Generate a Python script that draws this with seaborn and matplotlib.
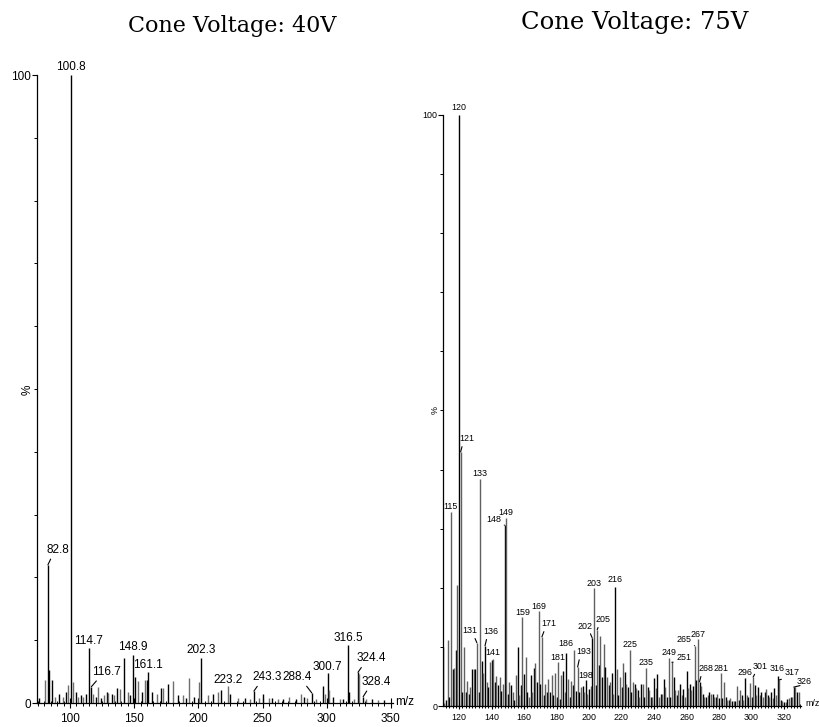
import numpy as np
import pandas as pd
import matplotlib
matplotlib.use("Agg")
import matplotlib.pyplot as plt
import seaborn as sns
from matplotlib import font_manager as fm
from matplotlib.ticker import MultipleLocator, FixedLocator

# ---------------- data ----------------
# Cone voltage 40 V spectrum (m/z, relative intensity %)
mz_40 = [75.6, 80.3, 82.8, 84.0, 86.3, 88.2, 91.5, 94.5, 96.8, 98.6, 100.8, 102.0,
         104.4, 106.5, 108.5, 110.5, 112.5, 114.7, 116.7, 118.3, 120.5, 122.2, 124.5,
         126.7, 128.5, 130.0, 132.7, 134.5, 136.6, 139.2, 142.4, 145.0, 146.5, 148.9,
         150.5, 152.9, 155.8, 158.7, 160.2, 161.1, 164.2, 167.6, 170.7, 172.8, 176.0,
         179.9, 183.8, 187.8, 190.5, 193.0, 196.9, 200.8, 202.3, 207.5, 211.5, 215.5,
         217.7, 223.2, 224.5, 231.0, 236.0, 240.0, 243.3, 247.0, 250.5, 255.0, 257.0,
         262.0, 266.0, 271.0, 276.0, 280.3, 282.5, 285.0, 288.4, 292.0, 296.8, 298.4,
         300.7, 301.8, 305.0, 310.0, 313.0, 316.5, 317.5, 321.0, 324.4, 325.5, 328.4,
         331.0, 335.0, 340.0, 345.0]
pct_40 = [0.8, 3.6, 22.0, 5.2, 3.6, 1.0, 1.5, 1.0, 1.8, 2.8, 100.0, 3.3,
          1.8, 1.0, 1.2, 0.9, 1.4, 8.8, 2.6, 1.5, 1.0, 2.5, 0.8,
          1.3, 1.8, 1.6, 1.5, 1.2, 2.4, 2.2, 7.2, 1.8, 1.2, 7.6,
          4.2, 3.5, 1.8, 3.6, 3.6, 5.0, 1.8, 1.5, 2.4, 2.4, 3.1,
          3.5, 1.3, 1.2, 0.8, 4.0, 1.0, 3.4, 7.2, 1.3, 1.5, 1.8,
          2.0, 2.7, 1.5, 0.8, 0.8, 0.6, 1.9, 0.8, 1.5, 0.8, 0.8,
          0.6, 0.6, 1.0, 0.6, 1.4, 1.0, 0.8, 1.6, 0.6, 2.7, 1.5,
          4.8, 2.0, 1.0, 0.6, 0.6, 9.2, 1.8, 0.6, 4.9, 4.6, 1.0,
          0.6, 0.6, 0.5, 0.5]
labels_40 = ["82.8", "100.8", "114.7", "116.7", "148.9", "161.1", "202.3", "223.2",
             "243.3", "288.4", "300.7", "316.5", "324.4", "328.4"]

# Cone voltage 75 V spectrum (integer m/z 110..329)
mz_75 = list(range(110, 330))
pct_75 = [10.0, 0.5, 1.0, 11.1, 1.5, 32.8, 6.3, 6.5, 9.5, 20.5,
          100.0, 43.0, 2.4, 9.9, 2.4, 4.2, 2.0, 3.2, 6.2, 6.2,
          6.2, 10.7, 2.4, 38.4, 7.6, 5.6, 10.2, 4.0, 3.2, 7.4,
          7.7, 8.0, 4.0, 5.0, 3.5, 4.9, 2.6, 3.8, 30.6, 31.8,
          2.0, 4.0, 3.5, 2.4, 1.0, 5.2, 9.9, 1.8, 3.5, 15.0,
          5.4, 8.3, 2.4, 1.6, 5.2, 2.4, 6.5, 7.2, 4.0, 16.0,
          3.7, 11.7, 1.8, 3.8, 2.4, 4.6, 2.4, 5.2, 1.8, 5.5,
          1.5, 7.4, 1.2, 5.2, 6.0, 2.4, 9.0, 4.5, 1.5, 4.2,
          3.5, 9.4, 2.5, 6.6, 2.4, 3.2, 3.3, 2.4, 4.4, 2.0,
          2.8, 3.3, 11.5, 20.0, 3.5, 12.9, 7.0, 11.8, 4.9, 10.5,
          6.6, 4.9, 3.5, 4.0, 5.6, 2.0, 20.1, 6.3, 1.9, 4.9,
          3.2, 7.2, 5.8, 3.8, 3.2, 9.5, 2.4, 4.1, 3.8, 3.0,
          2.7, 1.6, 3.7, 3.8, 1.6, 6.4, 3.2, 2.7, 1.6, 1.6,
          4.7, 3.0, 5.4, 1.6, 2.0, 2.0, 4.5, 3.2, 1.6, 8.1,
          1.6, 7.4, 4.9, 2.7, 1.9, 2.7, 3.8, 1.9, 2.8, 1.6,
          6.0, 3.0, 3.8, 2.7, 3.3, 10.2, 4.4, 11.3, 4.1, 3.4,
          2.1, 1.6, 1.6, 1.9, 2.3, 2.1, 2.1, 1.5, 1.6, 2.1,
          1.3, 5.6, 1.3, 4.1, 1.6, 1.0, 1.0, 1.3, 0.8, 0.8,
          0.8, 3.4, 1.0, 2.7, 1.9, 1.0, 4.7, 1.9, 1.5, 3.9,
          1.5, 4.9, 3.6, 1.9, 3.2, 1.9, 2.4, 1.6, 2.4, 2.8,
          1.9, 1.6, 2.4, 1.3, 3.0, 1.9, 5.1, 4.4, 1.0, 0.8,
          0.7, 0.7, 1.1, 1.3, 1.6, 1.6, 3.2, 3.2, 2.4, 2.4]
labels_75 = ["115", "120", "121", "131", "133", "136", "141", "148", "149", "159",
             "169", "171", "181", "186", "193", "198", "202", "203", "205", "216",
             "225", "235", "249", "251", "265", "267", "268", "281", "296", "301",
             "316", "317", "326"]

titles = ["Cone Voltage: 40V", "Cone Voltage: 75V"]
xticks_40 = [100, 150, 200, 250, 300, 350]
xticks_75 = [120, 140, 160, 180, 200, 220, 240, 260, 280, 300, 320]

# ---------------- layout (label offsets in pixels from peak top) ----------------
off_40 = [(10, 15), (0, 8), (0, 7), (15, 15), (0, 8), (0, 7), (0, 8), (0, 6),
          (13, 14), (-15, 16), (0, 6), (0, 7), (13, 14), (13, 15)]
off_75 = [(0, 6), (0, 7), (6, 13), (-7, 12), (0, 6), (6, 14), (0, 6), (-11, 6), (0, 6), (0, 5),
          (0, 5), (7, 13), (0, 5), (0, 9), (6, 15), (0, 4), (-7, 12), (0, 4), (6, 10), (0, 8),
          (0, 5.5), (0, 6), (0, 6), (12, 5), (-11, 6), (0, 5), (6, 13), (0.001, 4), (0, 6), (7, 10.5),
          (0, 7), (13, 7.5), (10, 6)]

sns.set_style("ticks")
available = {f.name for f in fm.fontManager.ttflist}
narrow = "Liberation Sans Narrow" if "Liberation Sans Narrow" in available else "Liberation Sans"
narrow_fs = 7.5 if narrow == "Liberation Sans Narrow" else 6.4
plt.rcParams["font.family"] = ["Liberation Sans", "DejaVu Sans"]
plt.rcParams["text.color"] = "black"
plt.rcParams["xtick.color"] = "black"
plt.rcParams["ytick.color"] = "black"
plt.rcParams["axes.labelcolor"] = "black"

W, H = 820, 727
fig = plt.figure(figsize=(W / 100, H / 100), dpi=100)


def px_axes(x0, ytop, x1, ybot):
    return fig.add_axes([x0 / W, 1 - ybot / H, (x1 - x0) / W, (ybot - ytop) / H])


def draw_panel(ax, mz, pct, xlim, xticks, minor_step, fs, family, labels, offsets,
               maj_len, min_len, xpad, big_black, gray):
    df = pd.DataFrame({"mz": mz, "pct": pct})
    cols = []
    for i, p in enumerate(df["pct"]):
        if big_black and p >= 5:
            cols.append("#000000")
        else:
            cols.append("#000000" if i % 2 == 0 else gray)
    ax.vlines(df["mz"], 0, df["pct"], colors=cols, lw=1.0)
    ax.set_xlim(*xlim)
    ax.set_ylim(0, 100)
    sns.despine(ax=ax)
    for s in ("left", "bottom"):
        ax.spines[s].set_linewidth(0.9)
        ax.spines[s].set_color("black")
    ax.xaxis.set_major_locator(FixedLocator(xticks))
    ax.xaxis.set_minor_locator(MultipleLocator(minor_step))
    ax.set_xticklabels([str(t) for t in xticks], fontsize=fs, family=family)
    ax.tick_params(axis="x", which="major", direction="inout", length=maj_len, width=0.8,
                   pad=xpad, colors="black")
    ax.tick_params(axis="x", which="minor", direction="inout", length=min_len, width=0.7,
                   colors="black")
    ax.yaxis.set_major_locator(FixedLocator([0, 100]))
    ax.yaxis.set_minor_locator(MultipleLocator(10))
    ax.set_yticklabels(["0", "100"], fontsize=fs, family=family)
    ax.tick_params(axis="y", which="major", direction="out", length=3.6, width=0.8, pad=0.5,
                   colors="black")
    ax.tick_params(axis="y", which="minor", direction="out", length=2.2, width=0.7,
                   colors="black")
    ax.set_xlabel("")
    ax.set_ylabel("")
    ax.patch.set_alpha(0)
    lookup = dict(zip(df["mz"], df["pct"]))
    for t, (dx, dy) in zip(labels, offsets):
        m = float(t)
        p = lookup[m]
        ap = None
        if abs(dx) >= 1:
            ap = dict(arrowstyle="-", lw=0.8, color="black", shrinkA=0, shrinkB=0,
                      relpos=(0.25, 0) if dx > 0 else (0.75, 0))
        ax.annotate(t, xy=(m, p), xytext=(dx, dy), textcoords="offset pixels",
                    ha="center", va="center", fontsize=fs, family=family, color="black",
                    arrowprops=ap, annotation_clip=False)


axL = px_axes(37, 75, 392.8, 703)
draw_panel(axL, mz_40, pct_40, (74.3, 351.5), xticks_40, 5, 8.5, "Liberation Sans",
           labels_40, off_40, 7.2, 3.6, 3.6, True, "#6e6e6e")
axR = px_axes(443, 115, 800.6, 706)
draw_panel(axR, [float(m) for m in mz_75], pct_75, (110.15, 330.2), xticks_75, 2, narrow_fs,
           narrow, labels_75, off_75, 4.5, 2.9, 2.8, False, "#606060")

# axis texts
fig.text(395 / W, 1 - 702 / H, "m/z", fontsize=8.5, family="Liberation Sans", ha="left", va="center")
fig.text(805 / W, 1 - 703 / H, "m/z", fontsize=narrow_fs, family=narrow, ha="left", va="center")
fig.text(28 / W, 1 - 390 / H, "%", fontsize=8.5, family="Liberation Sans", rotation=90,
         ha="center", va="center")
fig.text(435 / W, 1 - 410 / H, "%", fontsize=narrow_fs, family=narrow, rotation=90,
         ha="center", va="center")

# titles
fig.text(232 / W, 1 - 26 / H, titles[0], fontsize=16, family="DejaVu Serif", ha="center", va="center")
fig.text(635 / W, 1 - 22 / H, titles[1], fontsize=17.5, family="DejaVu Serif", ha="center", va="center")

fig.savefig("out.png", dpi=100)
